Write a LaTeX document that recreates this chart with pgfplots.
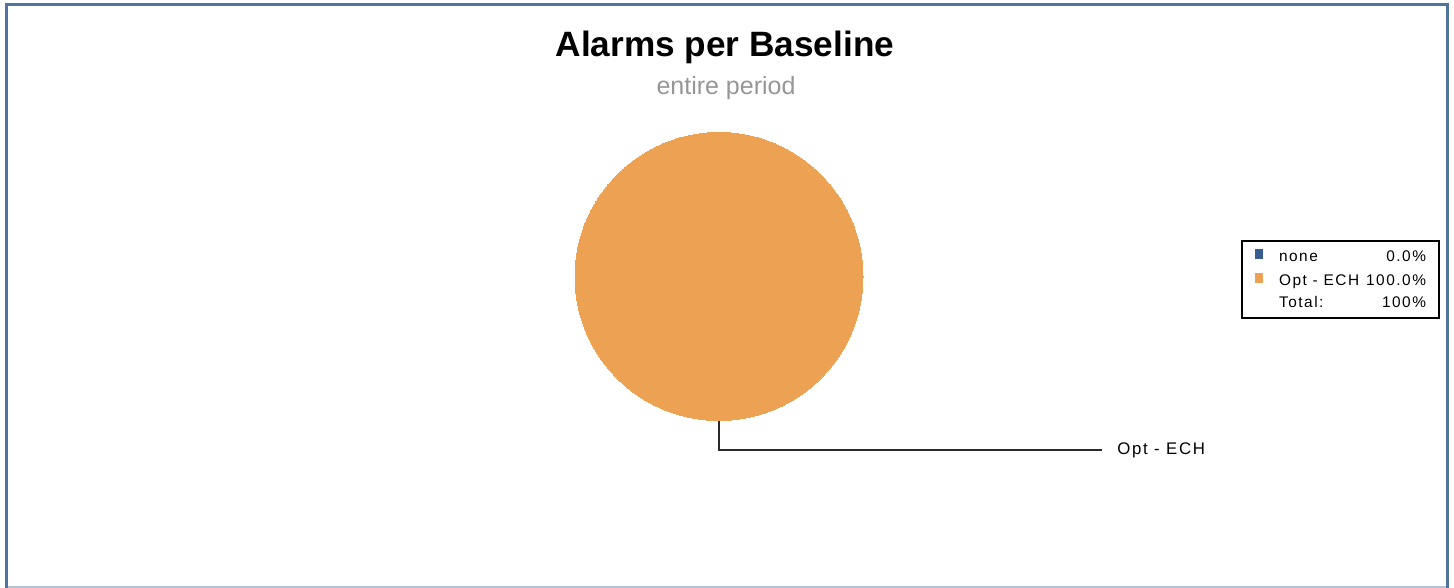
\documentclass[border=0pt]{standalone}
\usepackage{fontspec}
\setmainfont{Liberation Sans}
\newfontfamily\spaced[LetterSpace=10]{Liberation Sans}
\usepackage{pgfplots}
\pgfplotsset{compat=1.18}

\definecolor{pieorange}{HTML}{EDA152}
\definecolor{noneblue}{HTML}{375D91}
\definecolor{framecol}{HTML}{5073A0}
\definecolor{framelight}{HTML}{B4C2D6}
\definecolor{subgray}{HTML}{969696}
\definecolor{leader}{HTML}{2A2A2A}

\begin{document}
\begin{tikzpicture}
\begin{axis}[
    width=727pt, height=294pt, scale only axis,
    xmin=0, xmax=1454, ymin=0, ymax=588,
    y dir=reverse,   % pixel-style coordinates, origin at top left
    hide axis, clip=false,
    legend cell align=left,
    legend style={
        at={(axis cs:1241,240)}, anchor=north west,
        draw=black, line width=1pt, fill=white,
        font=\spaced\fontsize{7.7}{9}\selectfont,
        inner xsep=6.5pt, inner ysep=4pt, row sep=4pt,
        nodes={inner sep=0pt, text height=5.5pt, text depth=1.5pt},
    },
    legend image code/.code={
        \fill[#1, draw=none] (0pt,-0.7pt) rectangle (4.2pt,4.3pt);
        \path (11.5pt,0pt);
    },
]

% share of alarms: none 0.0 %, Opt - ECH 100.0 % -> one full slice
\addplot[only marks, mark=*, mark size=72pt, color=pieorange,
    mark options={fill=pieorange, draw=pieorange, line width=0pt}, forget plot]
    coordinates {(719,276.5)};

\addlegendimage{fill=noneblue}
\addlegendentry{\makebox[73.5pt][l]{none\hfill 0.0\%}}
\addlegendimage{fill=pieorange}
\addlegendentry{\makebox[73.5pt][l]{Opt - ECH\hfill 100.0\%}}
\addlegendimage{empty legend}
\addlegendentry{\makebox[73.5pt][l]{Total:\hfill 100\%}}

% frame
\draw[framecol, line width=1.5pt]
    (axis cs:6.5,588) -- (axis cs:6.5,4.5) -- (axis cs:1447.5,4.5) -- (axis cs:1447.5,588);
\draw[framelight, line width=0.75pt] (axis cs:8,587) -- (axis cs:1446,587);

% slice label
\draw[leader, line width=1pt]
    (axis cs:719,420) -- (axis cs:719,450) -- (axis cs:1102,450);
\node[anchor=west, inner sep=0pt, font=\spaced\fontsize{8.4}{9}\selectfont]
    at (axis cs:1117,450) {Opt - ECH};

% titles
\node[anchor=base, font=\bfseries\fontsize{17.6}{20}\selectfont]
    at (axis cs:725,57) {Alarms per Baseline};
\node[anchor=base, text=subgray, font=\fontsize{12.5}{15}\selectfont]
    at (axis cs:726,95) {entire period};
\end{axis}
\pgfresetboundingbox
\useasboundingbox (current axis.south west) rectangle (current axis.north east);
\end{tikzpicture}
\end{document}
